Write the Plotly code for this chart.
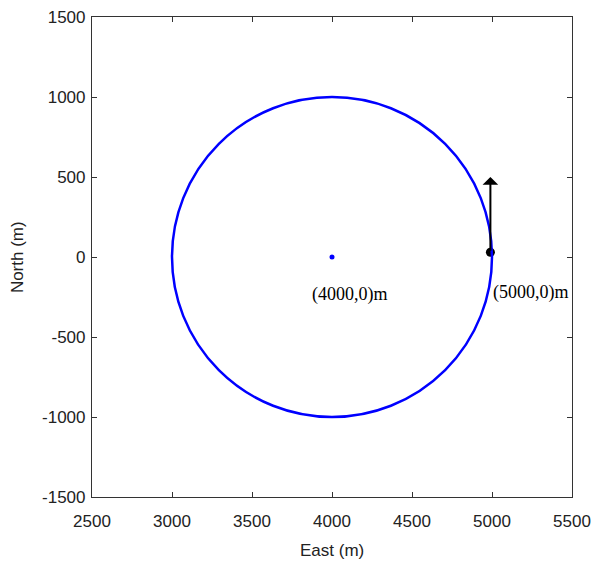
import plotly.graph_objects as go

# Data
circle_center = (4000, 0)
circle_radius = 1000
center_point_x = [4000]
center_point_y = [0]
start_point_x = [4990]
start_point_y = [30]
arrow_tip = (4990, 500)
center_label = "(4000,0)m"
start_label = "(5000,0)m"
x_ticks = [2500, 3000, 3500, 4000, 4500, 5000, 5500]
y_ticks = [-1500, -1000, -500, 0, 500, 1000, 1500]

SANS = "Liberation Sans, Arial, sans-serif"
SERIF = "Liberation Serif, Times New Roman, serif"

fig = go.Figure()

fig.add_shape(type="circle", xref="x", yref="y",
              x0=circle_center[0] - circle_radius, x1=circle_center[0] + circle_radius,
              y0=circle_center[1] - circle_radius, y1=circle_center[1] + circle_radius,
              line=dict(color="#0000FF", width=2.5))

fig.add_trace(go.Scatter(x=center_point_x, y=center_point_y, mode="markers",
                         marker=dict(color="#0000FF", size=5), showlegend=False))

fig.add_annotation(x=arrow_tip[0], y=arrow_tip[1], ax=start_point_x[0], ay=start_point_y[0],
                   xref="x", yref="y", axref="x", ayref="y", text="",
                   showarrow=True, arrowhead=1, arrowsize=1.3, arrowwidth=2, arrowcolor="black")

fig.add_trace(go.Scatter(x=start_point_x, y=start_point_y, mode="markers",
                         marker=dict(color="black", size=9), showlegend=False))

fig.add_annotation(x=center_point_x[0], y=center_point_y[0], text=center_label, showarrow=False,
                   xref="x", yref="y", yshift=-37, xshift=18,
                   font=dict(family=SERIF, size=18, color="black"))
fig.add_annotation(x=start_point_x[0], y=start_point_y[0], text=start_label, showarrow=False,
                   xref="x", yref="y", xanchor="left", yshift=-40, xshift=1,
                   font=dict(family=SERIF, size=18, color="black"))

# Axis titles
fig.add_annotation(x=0.5, y=-0.087, xref="paper", yref="paper", xanchor="center", yanchor="top",
                   text="East (m)", showarrow=False, font=dict(family=SANS, size=17, color="#222222"))
fig.add_annotation(x=-0.156, y=0.5, xref="paper", yref="paper", xanchor="center", yanchor="middle",
                   text="North (m)", textangle=-90,
                   showarrow=False, font=dict(family=SANS, size=17, color="#222222"))

axis_common = dict(showgrid=False, zeroline=False, showline=True, linecolor="#333333", linewidth=1.2,
                   mirror="ticks", ticks="inside", ticklen=5, tickcolor="#333333", automargin=False,
                   tickfont=dict(family=SANS, size=17, color="#222222"))

fig.update_xaxes(range=[2500, 5500], tickvals=x_ticks, ticktext=[str(v) for v in x_ticks],
                 ticklabelstandoff=8, **axis_common)
fig.update_yaxes(range=[-1500, 1500], tickvals=y_ticks, ticktext=[str(v) for v in y_ticks],
                 ticklabelstandoff=2, **axis_common)

fig.update_layout(width=591, height=561, margin=dict(l=92, r=19, t=17, b=64),
                  plot_bgcolor="white", paper_bgcolor="white")

fig.write_html("out.html")
